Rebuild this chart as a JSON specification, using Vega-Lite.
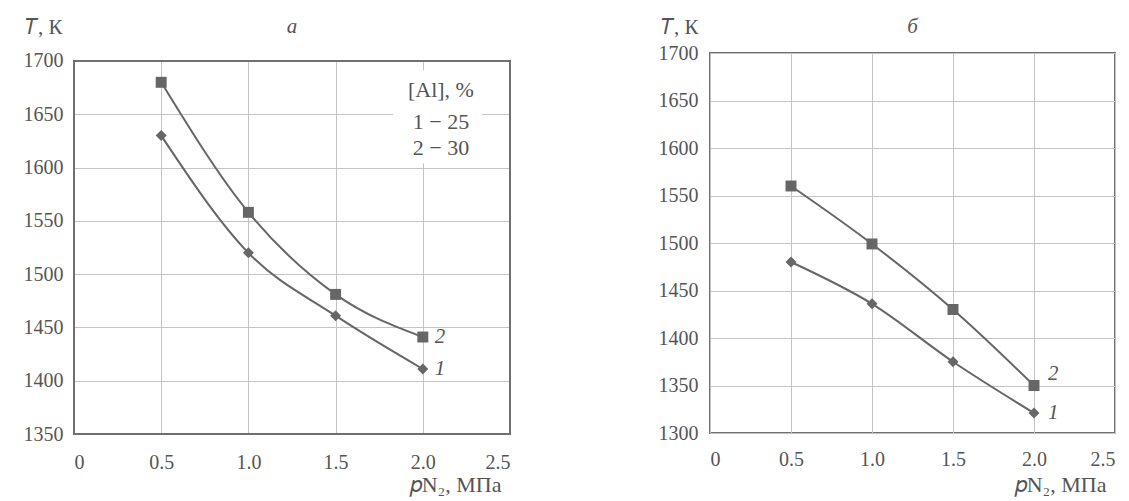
{
  "$schema": "https://vega.github.io/schema/vega-lite/v6.json",
  "background": "white",
  "padding": {"left": 23, "top": 15, "right": 5, "bottom": 5},
  "spacing": 145,
  "config": {
    "font": "Liberation Serif",
    "view": {"stroke": "#707070", "strokeWidth": 2},
    "axis": {
      "labelFont": "Liberation Serif", "labelFontSize": 20, "labelColor": "#555555",
      "grid": true, "gridColor": "#c4c4c4", "gridWidth": 1,
      "domain": false, "ticks": false, "tickSize": 0,
      "titleFont": "Liberation Serif", "titleFontSize": 21, "titleFontWeight": "normal", "titleColor": "#555555"
    }
  },
  "datasets": {
    "a": [
      {"p": 0.5, "T": 1680, "series": "2"},
      {"p": 1.0, "T": 1558, "series": "2"},
      {"p": 1.5, "T": 1481, "series": "2"},
      {"p": 2.0, "T": 1441, "series": "2"},
      {"p": 0.5, "T": 1630, "series": "1"},
      {"p": 1.0, "T": 1520, "series": "1"},
      {"p": 1.5, "T": 1461, "series": "1"},
      {"p": 2.0, "T": 1411, "series": "1"}
    ],
    "b": [
      {"p": 0.5, "T": 1560, "series": "2"},
      {"p": 1.0, "T": 1499, "series": "2"},
      {"p": 1.5, "T": 1430, "series": "2"},
      {"p": 2.0, "T": 1350, "series": "2"},
      {"p": 0.5, "T": 1480, "series": "1"},
      {"p": 1.0, "T": 1436, "series": "1"},
      {"p": 1.5, "T": 1375, "series": "1"},
      {"p": 2.0, "T": 1321, "series": "1"}
    ]
  },
  "hconcat": [
    {
      "width": 436,
      "height": 381,
      "view": {"stroke": null},
      "title": {"text": "a", "fontStyle": "italic", "fontSize": 21, "font": "Liberation Serif", "fontWeight": "normal", "color": "#555555", "offset": -38, "baseline": "alphabetic", "anchor": "middle"},
      "layer": [
        {
          "data": {"name": "a"},
          "mark": {"type": "line", "interpolate": "monotone", "color": "#666666", "strokeWidth": 2},
          "encoding": {
            "x": {"field": "p", "type": "quantitative", "scale": {"domain": [0, 2.5], "nice": false},
              "axis": {"values": [0, 0.5, 1, 1.5, 2, 2.5], "labelExpr": "datum.value == 0 ? '0' : format(datum.value, '.1f')", "labelFont": "Liberation Serif", "labelBaseline": "alphabetic", "labelPadding": 34,
                "title": "𝑝N₂, МПа", "titleFont": "Liberation Serif", "titleFontSize": 22, "titleAlign": "right", "titleBaseline": "alphabetic", "titleX": 427, "titleY": 57}},
            "y": {"field": "T", "type": "quantitative", "scale": {"domain": [1350, 1707.5], "nice": false, "zero": false},
              "axis": {"values": [1350, 1400, 1450, 1500, 1550, 1600, 1650, 1700], "format": "d", "labelFont": "Liberation Serif", "labelPadding": 11,
                "title": "𝑇, К", "titleFont": "Liberation Serif", "titleAngle": 0, "titleAlign": "right", "titleBaseline": "alphabetic", "titleX": -12, "titleY": -20}},
            "detail": {"field": "series", "type": "nominal"}
          }
        },
        {
          "data": {"name": "a"},
          "mark": {"type": "point", "filled": true, "color": "#666666", "opacity": 1, "size": 120},
          "encoding": {
            "x": {"field": "p", "type": "quantitative"},
            "y": {"field": "T", "type": "quantitative"},
            "shape": {"field": "series", "type": "nominal", "scale": {"domain": ["1", "2"], "range": ["diamond", "square"]}, "legend": null}
          }
        },
        {
          "data": {"name": "a"},
          "transform": [{"filter": "datum.p == 2"}],
          "mark": {"type": "text", "align": "left", "baseline": "middle", "dx": 12, "fontStyle": "italic", "fontSize": 21, "color": "#555555"},
          "encoding": {
            "x": {"field": "p", "type": "quantitative"},
            "y": {"field": "T", "type": "quantitative"},
            "text": {"field": "series", "type": "nominal"}
          }
        },
        {
          "data": {"values": [{}]},
          "mark": {"type": "rect", "fill": "white"},
          "encoding": {"x": {"datum": -0.01}, "x2": {"datum": 2.51}, "y": {"datum": 1700}, "y2": {"datum": 1708}}
        },
        {
          "data": {"values": [{}]},
          "mark": {"type": "rect", "fill": null, "stroke": "#707070", "strokeWidth": 2},
          "encoding": {"x": {"datum": 0}, "x2": {"datum": 2.5}, "y": {"datum": 1350}, "y2": {"datum": 1700}}
        },
        {
          "data": {"values": [{}]},
          "mark": {"type": "rect", "fill": "white"},
          "encoding": {"x": {"datum": 1.83}, "x2": {"datum": 2.34}, "y": {"datum": 1691}, "y2": {"datum": 1604}}
        },
        {
          "data": {"values": [{}]},
          "mark": {"type": "text", "align": "center", "baseline": "alphabetic", "fontSize": 22, "color": "#555555", "text": "[Al], %"},
          "encoding": {"x": {"datum": 2.104}, "y": {"datum": 1666}}
        },
        {
          "data": {"values": [{}]},
          "mark": {"type": "text", "align": "center", "baseline": "alphabetic", "fontSize": 22, "color": "#555555", "text": "1 − 25"},
          "encoding": {"x": {"datum": 2.104}, "y": {"datum": 1636}}
        },
        {
          "data": {"values": [{}]},
          "mark": {"type": "text", "align": "center", "baseline": "alphabetic", "fontSize": 22, "color": "#555555", "text": "2 − 30"},
          "encoding": {"x": {"datum": 2.104}, "y": {"datum": 1612}}
        }
      ]
    },
    {
      "width": 405,
      "height": 380,
      "title": {"text": "б", "fontStyle": "italic", "fontSize": 21, "font": "Liberation Serif", "fontWeight": "normal", "color": "#555555", "offset": -38, "baseline": "alphabetic", "anchor": "middle"},
      "layer": [
        {
          "data": {"name": "b"},
          "mark": {"type": "line", "interpolate": "monotone", "color": "#666666", "strokeWidth": 2},
          "encoding": {
            "x": {"field": "p", "type": "quantitative", "scale": {"domain": [0, 2.5], "nice": false},
              "axis": {"values": [0, 0.5, 1, 1.5, 2, 2.5], "labelExpr": "datum.value == 0 ? '0' : format(datum.value, '.1f')", "labelFont": "Liberation Serif", "labelBaseline": "alphabetic", "labelPadding": 32,
                "title": "𝑝N₂, МПа", "titleFont": "Liberation Serif", "titleFontSize": 22, "titleAlign": "right", "titleBaseline": "alphabetic", "titleX": 396, "titleY": 58}},
            "y": {"field": "T", "type": "quantitative", "scale": {"domain": [1300, 1700], "nice": false, "zero": false},
              "axis": {"values": [1300, 1350, 1400, 1450, 1500, 1550, 1600, 1650, 1700], "format": "d", "labelFont": "Liberation Serif", "labelPadding": 12,
                "title": "𝑇, К", "titleFont": "Liberation Serif", "titleAngle": 0, "titleAlign": "right", "titleBaseline": "alphabetic", "titleX": -12, "titleY": -20}},
            "detail": {"field": "series", "type": "nominal"}
          }
        },
        {
          "data": {"name": "b"},
          "mark": {"type": "point", "filled": true, "color": "#666666", "opacity": 1, "size": 120},
          "encoding": {
            "x": {"field": "p", "type": "quantitative"},
            "y": {"field": "T", "type": "quantitative"},
            "shape": {"field": "series", "type": "nominal", "scale": {"domain": ["1", "2"], "range": ["diamond", "square"]}, "legend": null}
          }
        },
        {
          "data": {"name": "b"},
          "transform": [{"filter": "datum.p == 2 && datum.series == '1'"}],
          "mark": {"type": "text", "align": "left", "baseline": "middle", "dx": 14, "fontStyle": "italic", "fontSize": 21, "color": "#555555"},
          "encoding": {
            "x": {"field": "p", "type": "quantitative"},
            "y": {"field": "T", "type": "quantitative"},
            "text": {"field": "series", "type": "nominal"}
          }
        },
        {
          "data": {"name": "b"},
          "transform": [{"filter": "datum.p == 2 && datum.series == '2'"}],
          "mark": {"type": "text", "align": "left", "baseline": "middle", "dx": 14, "dy": -12, "fontStyle": "italic", "fontSize": 21, "color": "#555555"},
          "encoding": {
            "x": {"field": "p", "type": "quantitative"},
            "y": {"field": "T", "type": "quantitative"},
            "text": {"field": "series", "type": "nominal"}
          }
        }
      ]
    }
  ]
}
